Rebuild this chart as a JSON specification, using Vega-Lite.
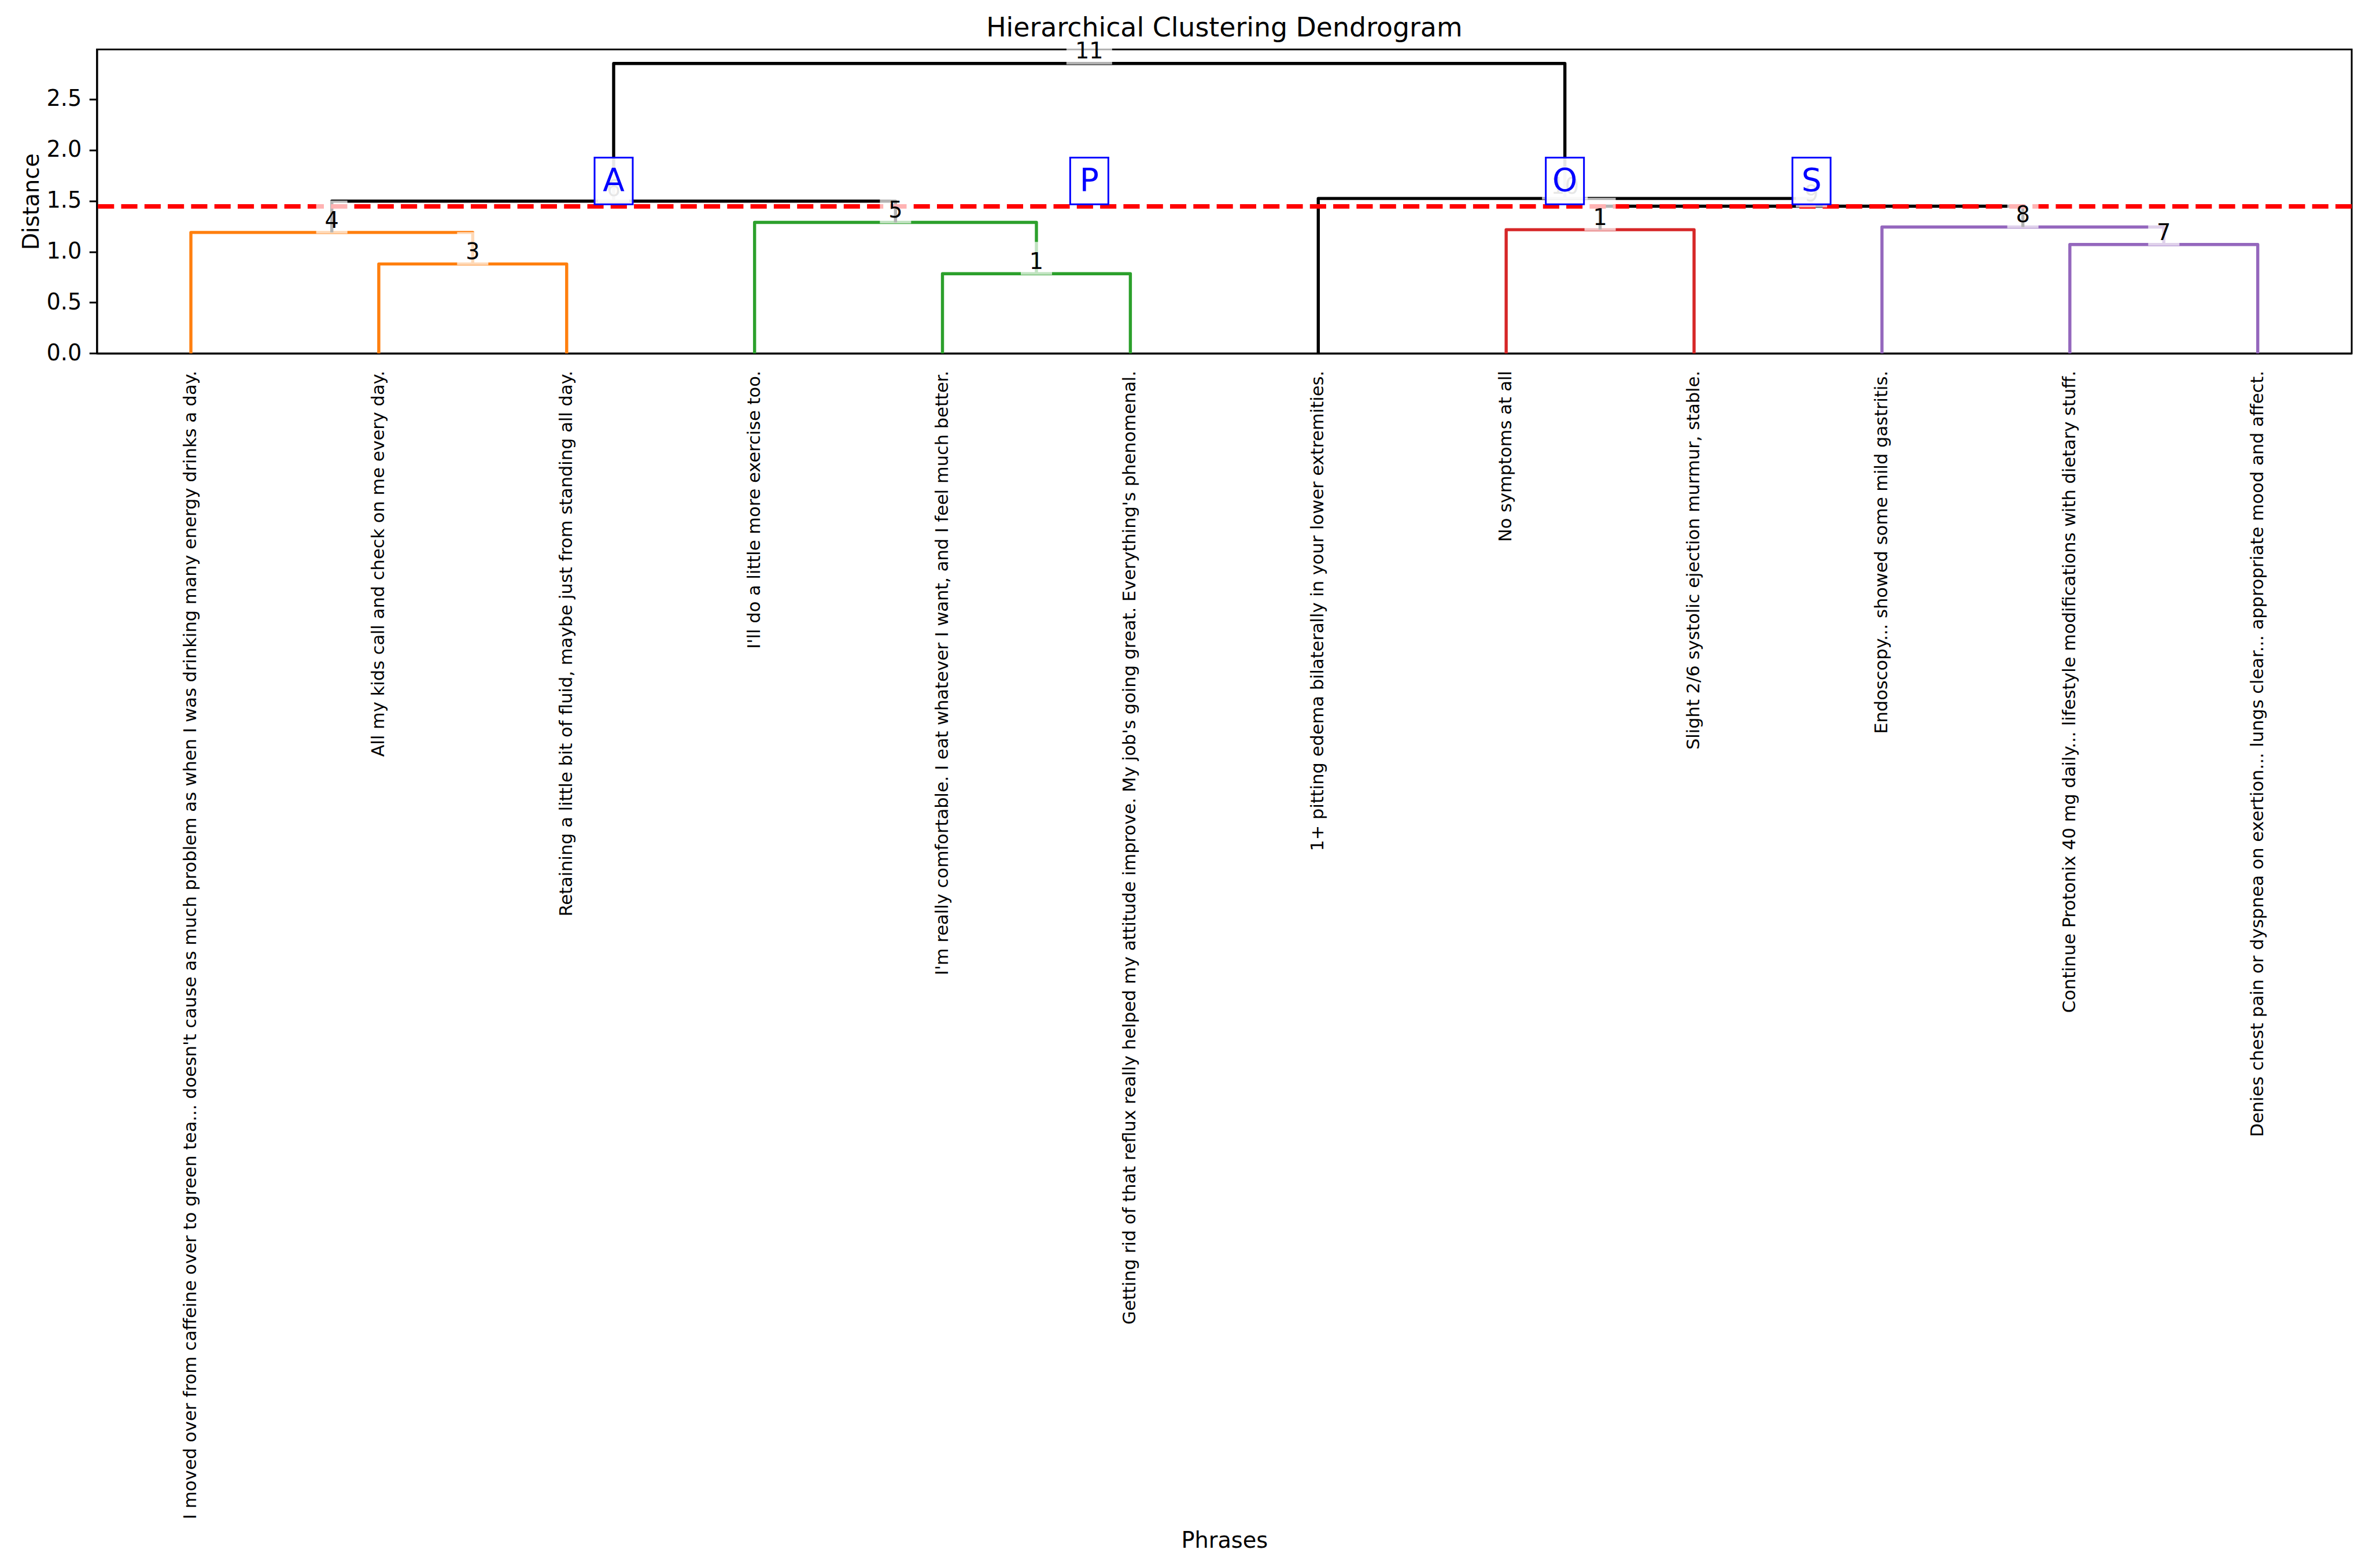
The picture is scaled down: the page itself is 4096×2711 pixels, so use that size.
{
  "$schema": "https://vega.github.io/schema/vega-lite/v6.json",
  "autosize": {"type": "none"},
  "width": 3898.5,
  "height": 525.4,
  "padding": {"left": 167.6, "top": 85.6, "right": 29.9, "bottom": 2100},
  "background": "white",
  "title": {
    "text": "Hierarchical Clustering Dendrogram",
    "fontSize": 45.8,
    "font": "DejaVu Sans",
    "fontWeight": "normal",
    "color": "black",
    "anchor": "middle",
    "frame": "group",
    "baseline": "alphabetic",
    "offset": -54
  },
  "config": {
    "view": {"stroke": "black", "strokeWidth": 3},
    "font": "DejaVu Sans",
    "axis": {
      "domainColor": "black",
      "domainWidth": 3,
      "tickColor": "black",
      "tickWidth": 3,
      "labelColor": "black",
      "titleColor": "black",
      "labelFont": "DejaVu Sans",
      "titleFont": "DejaVu Sans",
      "titleFontWeight": "normal",
      "grid": false
    }
  },
  "datasets": {
    "links": [
      {"id": 1, "o": 1, "x": 15, "y": 0, "c": "#ff7f0e"},
      {"id": 1, "o": 2, "x": 15, "y": 0.879, "c": "#ff7f0e"},
      {"id": 1, "o": 3, "x": 25, "y": 0.879, "c": "#ff7f0e"},
      {"id": 1, "o": 4, "x": 25, "y": 0, "c": "#ff7f0e"},
      {"id": 2, "o": 1, "x": 5, "y": 0, "c": "#ff7f0e"},
      {"id": 2, "o": 2, "x": 5, "y": 1.189, "c": "#ff7f0e"},
      {"id": 2, "o": 3, "x": 20, "y": 1.189, "c": "#ff7f0e"},
      {"id": 2, "o": 4, "x": 20, "y": 0.879, "c": "#ff7f0e"},
      {"id": 3, "o": 1, "x": 45, "y": 0, "c": "#2ca02c"},
      {"id": 3, "o": 2, "x": 45, "y": 0.783, "c": "#2ca02c"},
      {"id": 3, "o": 3, "x": 55, "y": 0.783, "c": "#2ca02c"},
      {"id": 3, "o": 4, "x": 55, "y": 0, "c": "#2ca02c"},
      {"id": 4, "o": 1, "x": 35, "y": 0, "c": "#2ca02c"},
      {"id": 4, "o": 2, "x": 35, "y": 1.288, "c": "#2ca02c"},
      {"id": 4, "o": 3, "x": 50, "y": 1.288, "c": "#2ca02c"},
      {"id": 4, "o": 4, "x": 50, "y": 0.783, "c": "#2ca02c"},
      {"id": 5, "o": 1, "x": 12.5, "y": 1.189, "c": "#000000"},
      {"id": 5, "o": 2, "x": 12.5, "y": 1.497, "c": "#000000"},
      {"id": 5, "o": 3, "x": 42.5, "y": 1.497, "c": "#000000"},
      {"id": 5, "o": 4, "x": 42.5, "y": 1.288, "c": "#000000"},
      {"id": 6, "o": 1, "x": 75, "y": 0, "c": "#d62728"},
      {"id": 6, "o": 2, "x": 75, "y": 1.216, "c": "#d62728"},
      {"id": 6, "o": 3, "x": 85, "y": 1.216, "c": "#d62728"},
      {"id": 6, "o": 4, "x": 85, "y": 0, "c": "#d62728"},
      {"id": 7, "o": 1, "x": 105, "y": 0, "c": "#9467bd"},
      {"id": 7, "o": 2, "x": 105, "y": 1.07, "c": "#9467bd"},
      {"id": 7, "o": 3, "x": 115, "y": 1.07, "c": "#9467bd"},
      {"id": 7, "o": 4, "x": 115, "y": 0, "c": "#9467bd"},
      {"id": 8, "o": 1, "x": 95, "y": 0, "c": "#9467bd"},
      {"id": 8, "o": 2, "x": 95, "y": 1.242, "c": "#9467bd"},
      {"id": 8, "o": 3, "x": 110, "y": 1.242, "c": "#9467bd"},
      {"id": 8, "o": 4, "x": 110, "y": 1.07, "c": "#9467bd"},
      {"id": 9, "o": 1, "x": 80, "y": 1.216, "c": "#000000"},
      {"id": 9, "o": 2, "x": 80, "y": 1.447, "c": "#000000"},
      {"id": 9, "o": 3, "x": 102.5, "y": 1.447, "c": "#000000"},
      {"id": 9, "o": 4, "x": 102.5, "y": 1.242, "c": "#000000"},
      {"id": 10, "o": 1, "x": 65, "y": 0, "c": "#000000"},
      {"id": 10, "o": 2, "x": 65, "y": 1.523, "c": "#000000"},
      {"id": 10, "o": 3, "x": 91.25, "y": 1.523, "c": "#000000"},
      {"id": 10, "o": 4, "x": 91.25, "y": 1.447, "c": "#000000"},
      {"id": 11, "o": 1, "x": 27.5, "y": 1.497, "c": "#000000"},
      {"id": 11, "o": 2, "x": 27.5, "y": 2.85, "c": "#000000"},
      {"id": 11, "o": 3, "x": 78.125, "y": 2.85, "c": "#000000"},
      {"id": 11, "o": 4, "x": 78.125, "y": 1.523, "c": "#000000"}
    ],
    "nodes": [
      {"x": 52.8125, "y": 2.85, "t": "11"},
      {"x": 27.5, "y": 1.497, "t": "6"},
      {"x": 12.5, "y": 1.189, "t": "4"},
      {"x": 20, "y": 0.879, "t": "3"},
      {"x": 42.5, "y": 1.288, "t": "5"},
      {"x": 50, "y": 0.783, "t": "1"},
      {"x": 78.125, "y": 1.523, "t": "10"},
      {"x": 91.25, "y": 1.447, "t": "9"},
      {"x": 80, "y": 1.216, "t": "1"},
      {"x": 102.5, "y": 1.242, "t": "8"},
      {"x": 110, "y": 1.07, "t": "7"}
    ],
    "clusters": [
      {"x": 27.5, "y": 1.695, "t": "A"},
      {"x": 52.8125, "y": 1.695, "t": "P"},
      {"x": 78.125, "y": 1.695, "t": "O"},
      {"x": 91.25, "y": 1.695, "t": "S"}
    ],
    "leaves": [
      {"x": 5, "phrase": "I moved over from caffeine over to green tea... doesn't cause as much problem as when I was drinking many energy drinks a day."},
      {"x": 15, "phrase": "All my kids call and check on me every day."},
      {"x": 25, "phrase": "Retaining a little bit of fluid, maybe just from standing all day."},
      {"x": 35, "phrase": "I'll do a little more exercise too."},
      {"x": 45, "phrase": "I'm really comfortable. I eat whatever I want, and I feel much better."},
      {"x": 55, "phrase": "Getting rid of that reflux really helped my attitude improve. My job's going great. Everything's phenomenal."},
      {"x": 65, "phrase": "1+ pitting edema bilaterally in your lower extremities."},
      {"x": 75, "phrase": "No symptoms at all"},
      {"x": 85, "phrase": "Slight 2/6 systolic ejection murmur, stable."},
      {"x": 95, "phrase": "Endoscopy... showed some mild gastritis."},
      {"x": 105, "phrase": "Continue Protonix 40 mg daily... lifestyle modifications with dietary stuff."},
      {"x": 115, "phrase": "Denies chest pain or dyspnea on exertion... lungs clear... appropriate mood and affect."}
    ]
  },
  "layer": [
    {
      "data": {"name": "links"},
      "mark": {"type": "line", "strokeWidth": 5.4, "strokeJoin": "round", "strokeCap": "butt"},
      "encoding": {
        "x": {"field": "x", "type": "quantitative", "scale": {"domain": [0, 120], "nice": false, "zero": false},
          "axis": {"title": "Phrases", "labels": false, "ticks": false, "tickSize": 0, "titleFontSize": 38.2, "titleX": 1949.25, "titleY": 2064, "titleBaseline": "alphabetic", "titleAlign": "center"}},
        "y": {"field": "y", "type": "quantitative", "scale": {"domain": [0, 2.987], "nice": false},
          "axis": {"title": "Distance", "values": [0, 0.5, 1, 1.5, 2, 2.5], "format": ".1f", "labelFontSize": 38.2, "tickSize": 13.4, "labelPadding": 13.4, "titleFontSize": 38.2, "titleX": -101.6, "titleY": 262.7, "titleAngle": 270, "titleAlign": "center", "titleBaseline": "alphabetic"}},
        "detail": {"field": "id", "type": "nominal"},
        "order": {"field": "o", "type": "quantitative"},
        "color": {"field": "c", "type": "nominal", "scale": null}
      }
    },
    {
      "data": {"values": [{"h": 1.445}]},
      "mark": {"type": "rule", "color": "#ff0000", "strokeWidth": 7.6, "strokeDash": [28.1, 12.2], "strokeCap": "butt"},
      "encoding": {"y": {"field": "h", "type": "quantitative"}}
    },
    {
      "data": {"name": "nodes"},
      "transform": [{"filter": "length(datum.t) == 1"}],
      "mark": {"type": "rect", "width": 54, "height": 57, "fill": "white", "fillOpacity": 0.7, "yOffset": -26.6},
      "encoding": {"x": {"field": "x", "type": "quantitative"}, "y": {"field": "y", "type": "quantitative"}}
    },
    {
      "data": {"name": "nodes"},
      "transform": [{"filter": "length(datum.t) == 2"}],
      "mark": {"type": "rect", "width": 79, "height": 57, "fill": "white", "fillOpacity": 0.7, "yOffset": -26.6},
      "encoding": {"x": {"field": "x", "type": "quantitative"}, "y": {"field": "y", "type": "quantitative"}}
    },
    {
      "data": {"name": "nodes"},
      "mark": {"type": "text", "fontSize": 38.2, "font": "DejaVu Sans", "color": "black", "align": "center", "baseline": "alphabetic", "dy": -8.2},
      "encoding": {"x": {"field": "x", "type": "quantitative"}, "y": {"field": "y", "type": "quantitative"}, "text": {"field": "t"}}
    },
    {
      "data": {"name": "clusters"},
      "mark": {"type": "rect", "width": 66, "height": 80.6, "fill": "white", "fillOpacity": 0.9, "stroke": "blue", "strokeWidth": 3, "strokeOpacity": 1},
      "encoding": {"x": {"field": "x", "type": "quantitative"}, "y": {"field": "y", "type": "quantitative"}}
    },
    {
      "data": {"name": "clusters"},
      "mark": {"type": "text", "fontSize": 55, "font": "DejaVu Sans", "color": "blue", "align": "center", "baseline": "alphabetic", "dy": 17},
      "encoding": {"x": {"field": "x", "type": "quantitative"}, "y": {"field": "y", "type": "quantitative"}, "text": {"field": "t"}}
    },
    {
      "data": {"name": "leaves"},
      "mark": {"type": "text", "fontSize": 30.5, "font": "DejaVu Sans", "color": "black", "angle": 270, "align": "right", "baseline": "middle", "dx": -30},
      "encoding": {"x": {"field": "x", "type": "quantitative"}, "y": {"datum": 0}, "text": {"field": "phrase"}}
    }
  ]
}
